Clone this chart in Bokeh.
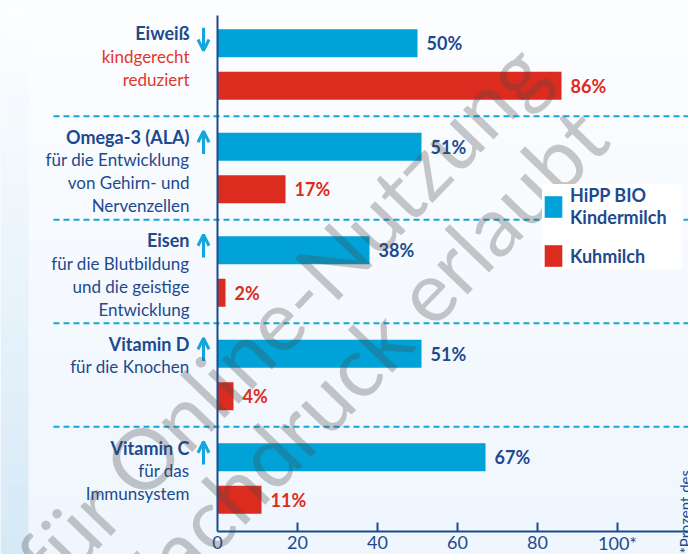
import math
from bokeh.plotting import figure
from bokeh.models import Range1d, Arrow, OpenHead, Legend, LegendItem, Label
from bokeh.core.properties import value
from bokeh.embed import file_html
from bokeh.resources import INLINE

# ---------------- data ----------------
categories = ["Eiweiß", "Omega-3 (ALA)", "Eisen", "Vitamin D", "Vitamin C"]
descriptions = [
    ["kindgerecht", "reduziert"],
    ["für die Entwicklung", "von Gehirn- und", "Nervenzellen"],
    ["für die Blutbildung", "und die geistige", "Entwicklung"],
    ["für die Knochen"],
    ["für das", "Immunsystem"],
]
desc_red = [True, False, False, False, False]
trend = ["down", "up", "up", "up", "up"]
hipp = [50, 51, 38, 51, 67]
kuh = [86, 17, 2, 4, 11]
series_names = ["HiPP BIO\nKindermilch", "Kuhmilch"]
x_ticks = [0, 20, 40, 60, 80, 100]
x_tick_labels = ["0", "20", "40", "60", "80", "100*"]
footnote = "*Prozent des"
watermark = ["für Online-Nutzung", "Nachdruck erlaubt"]

# ---------------- style ----------------
BLUE = "#00a2d7"
RED = "#dc2b1f"
NAVY = "#1d4a8e"
LRED = "#e2382c"
CYAN = "#14a5da"
FONT = value("Lato")

n = len(categories)
pos = [n - 1 - i for i in range(n)]
OFF = 0.205
BAR_H = 0.27
X0, X1 = -54.25, 117.75          # whole canvas width is plot frame
Y0, Y1 = -0.734, 4.618           # whole canvas height is plot frame
AXIS_Y = -0.512                  # value axis baseline
AXIS_TOP = 4.473                 # top of the vertical zero line
PX_Y = 1 / 103.5                 # data units per pixel (vertical)

p = figure(width=688, height=554, x_range=Range1d(X0, X1), y_range=Range1d(Y0, Y1),
           output_backend="svg", toolbar_location=None,
           x_axis_location=None, y_axis_location=None,
           min_border_left=0, min_border_right=0, min_border_top=0, min_border_bottom=0,
           background_fill_color="#f2f8fd", border_fill_color="#eef6fc")
p.outline_line_color = None
p.xgrid.visible = False
p.ygrid.visible = False

# background gradient bands
nb = 30
def mix(c1, c2, t):
    a = [int(c1[i:i + 2], 16) for i in (1, 3, 5)]
    b = [int(c2[i:i + 2], 16) for i in (1, 3, 5)]
    return "#" + "".join(f"{round(a[k] + (b[k] - a[k]) * t):02x}" for k in range(3))
h = (Y1 - Y0) / nb
tops = [Y1 - k * h for k in range(nb)]
bots = [t - h for t in tops]
STRIP = -47.25
p.quad(left=STRIP, right=X1, top=tops, bottom=bots,
       fill_color=[mix("#fcfdff", "#eff6fd", k / (nb - 1)) for k in range(nb)], line_color=None)
p.quad(left=X0, right=STRIP, top=tops, bottom=bots,
       fill_color=[mix("#fdfeff", "#d6e9f7", k / (nb - 1)) for k in range(nb)], line_color=None)

# dashed separators
seps = [pos[i] - 0.5 for i in range(n - 1)]
p.segment(x0=-41, x1=X1, y0=seps, y1=seps, line_color=CYAN, line_width=2, line_dash="6 4")

# bars
r1 = p.hbar(y=[v + OFF for v in pos], right=hipp, left=0, height=BAR_H,
            fill_color=BLUE, line_color=None)
r2 = p.hbar(y=[v - OFF for v in pos], right=kuh, left=0, height=BAR_H,
            fill_color=RED, line_color=None)

# value labels
p.text(x=hipp, y=[v + OFF for v in pos], text=[f"{v}%" for v in hipp], x_offset=9,
       text_baseline="middle", text_align="left", text_font=FONT, text_font_style="bold",
       text_font_size="18px", text_color=NAVY)
p.text(x=kuh, y=[v - OFF for v in pos], text=[f"{v}%" for v in kuh], x_offset=9,
       text_baseline="middle", text_align="left", text_font=FONT, text_font_style="bold",
       text_font_size="18px", text_color=RED)

# category labels
LX = -7
FIRST = 0.232 + 7 * PX_Y
p.text(x=[LX] * n, y=[v + FIRST for v in pos], text=categories, text_align="right",
       text_baseline="alphabetic", text_font=FONT, text_font_style="bold",
       text_font_size="18px", text_color=NAVY)
dx, dy, dt, dc = [], [], [], []
for i, lines in enumerate(descriptions):
    for j, t in enumerate(lines):
        dx.append(LX)
        dy.append(pos[i] + FIRST - 0.222 * (j + 1))
        dt.append(t)
        dc.append(LRED if desc_red[i] else NAVY)
p.text(x=dx, y=dy, text=dt, text_color=dc, text_align="right", text_baseline="alphabetic",
       text_font=FONT, text_font_size="17px")

# trend arrows
for i, tr in enumerate(trend):
    lo, hi = pos[i] + 0.135, pos[i] + 0.355
    ys, ye = (lo, hi) if tr == "up" else (hi, lo)
    p.add_layout(Arrow(end=OpenHead(size=11, line_width=3, line_color=CYAN),
                       x_start=-3.5, x_end=-3.5, y_start=ys, y_end=ye,
                       line_color=CYAN, line_width=3))

# axes drawn by hand (whole canvas is the plot frame)
p.segment(x0=[0], x1=[0], y0=[AXIS_Y], y1=[AXIS_TOP], line_color=NAVY, line_width=2)
p.segment(x0=[0], x1=[X1], y0=[AXIS_Y], y1=[AXIS_Y], line_color=NAVY, line_width=2)
p.segment(x0=x_ticks[1:], x1=x_ticks[1:], y0=[AXIS_Y] * (len(x_ticks) - 1),
          y1=[AXIS_Y + 9 * PX_Y] * (len(x_ticks) - 1), line_color=NAVY, line_width=2)
p.text(x=x_ticks, y=[AXIS_Y] * len(x_ticks), text=x_tick_labels, y_offset=11,
       text_align="center", text_baseline="alphabetic", text_font=FONT,
       text_font_size="18px", text_color=NAVY)

# legend
legend = Legend(items=[LegendItem(label=series_names[0], renderers=[r1]),
                       LegendItem(label=series_names[1], renderers=[r2])],
                location=(542, 285), background_fill_color="white", background_fill_alpha=1,
                border_line_color=None, glyph_width=22, glyph_height=27, label_standoff=6,
                padding=10, spacing=14, margin=0, label_width=112,
                label_text_font="Lato", label_text_font_style="bold",
                label_text_font_size="18px", label_text_color=NAVY,
                label_text_line_height=1.05)
p.add_layout(legend)

# footnote (rotated)
p.add_layout(Label(x=116.75, y=-0.725, text=footnote, angle=math.pi / 2,
                   text_align="left", text_baseline="alphabetic", text_font="Lato",
                   text_font_size="15px", text_color=NAVY))

# watermark
ang = math.radians(46)
wm_pos = [(-46.75, -0.908), (-25.0, -1.275)]
for (wx, wy), t in zip(wm_pos, watermark):
    p.add_layout(Label(x=wx, y=wy, text=t, angle=ang, text_align="left",
                       text_baseline="alphabetic", text_font="Lato",
                       text_font_size="84px", text_color="#4a4a4a", text_alpha=0.3))

open("out.html", "w").write(file_html(p, INLINE))
